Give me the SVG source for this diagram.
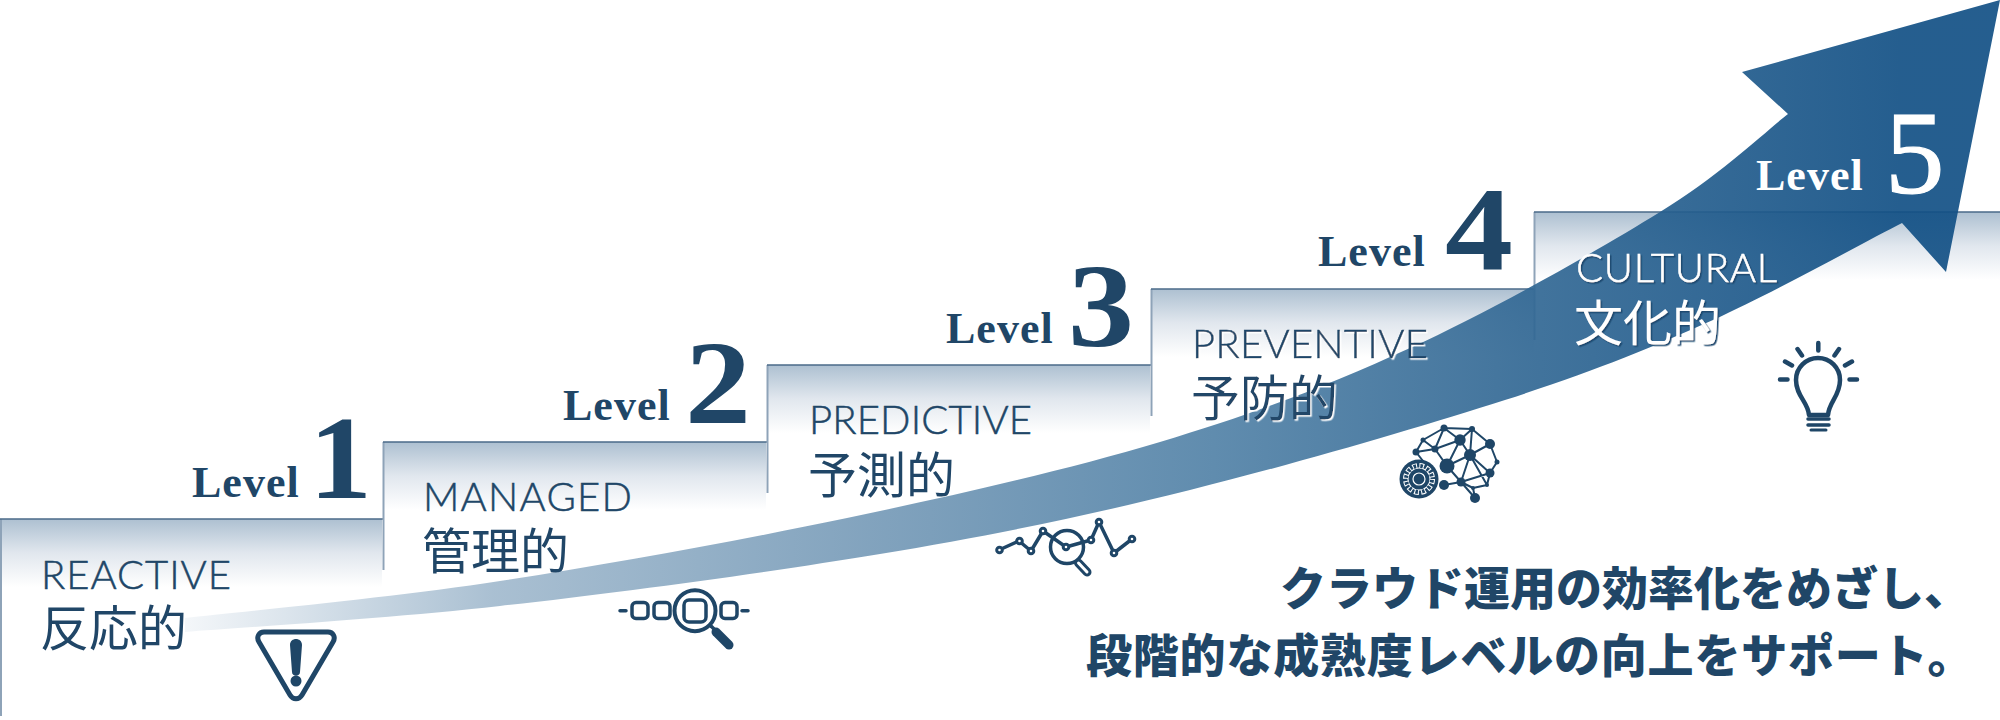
<svg xmlns="http://www.w3.org/2000/svg" width="2000" height="720" viewBox="0 0 2000 720">
<style>
text{font-family:"Liberation Serif",serif}
.lv{font-size:44px;font-weight:700;fill:#204667;letter-spacing:1px}
.dg{font-size:119px;font-weight:700;fill:#204667}
.en{font-family:Lato,"Noto Sans",sans-serif;font-weight:300;font-size:40px;fill:#204667;stroke:#204667;stroke-width:.5px}
.jp{font-family:"Noto Sans CJK JP",sans-serif;font-weight:400;font-size:49px;fill:#204667}
.msg{font-family:"Noto Sans CJK JP",sans-serif;font-weight:900;font-size:46px;fill:#204667}
.w{fill:#fff;stroke:#fff}
.lv.w,.jp.w{stroke:none}
.tl{stroke:#4a6a88;stroke-width:1.5;fill:none}
.ll{stroke:#8ea3b8;stroke-width:2;fill:none}
.ic{fill:none;stroke:#1f4667;stroke-linecap:round;stroke-linejoin:round}
.nd{fill:#1f4667}
.sh{filter:url(#sw)}
.sd{filter:url(#sd)}
</style>
<defs>
<linearGradient id="st" x1="0" y1="0" x2="0" y2="1"><stop offset="0" stop-color="#adc0d1"/><stop offset=".5" stop-color="#e1e7ee"/><stop offset="1" stop-color="#fff"/></linearGradient>
<linearGradient id="ar" gradientUnits="userSpaceOnUse" x1="185" y1="0" x2="1900" y2="0"><stop offset="0" stop-color="#f3f6f9"/><stop offset=".18" stop-color="#a2bace"/><stop offset=".4" stop-color="#779bb8"/><stop offset=".6" stop-color="#5282a7"/><stop offset=".78" stop-color="#326894"/><stop offset="1" stop-color="#125085"/></linearGradient>
<filter id="sw" x="-5%" y="-10%" width="110%" height="120%"><feDropShadow dx="1.5" dy="1.5" stdDeviation="0" flood-color="#fff"/></filter>
<filter id="sd" x="-5%" y="-10%" width="110%" height="120%"><feDropShadow dx="1.5" dy="1.5" stdDeviation="0" flood-color="#1f4a70"/></filter>
</defs>
<g id="step-1"><rect x="0" y="519" width="382" height="68" fill="url(#st)"/><path class="ll" d="M1 519V716"/><path class="tl" d="M0 519H383"/></g>
<g id="step-2"><rect x="383" y="442" width="383" height="68" fill="url(#st)"/><path class="ll" d="M383.500 442V570"/><path class="tl" d="M383 442H767"/></g>
<g id="step-3"><rect x="767" y="365" width="383" height="68" fill="url(#st)"/><path class="ll" d="M767.500 365V493"/><path class="tl" d="M767 365H1151"/></g>
<g id="step-4"><rect x="1151" y="289" width="383" height="68" fill="url(#st)"/><path class="ll" d="M1151.500 289V416"/><path class="tl" d="M1151 289H1535"/></g>
<g id="step-5"><rect x="1535" y="212" width="465" height="68" fill="url(#st)"/><path class="ll" d="M1534.500 212V340"/><path class="tl" d="M1534 212H2000"/></g>
<g id="connectors">
<path opacity=".92" fill="url(#ar)" d="M185 618C237 612 390 598 500 581C610 564 737 541 847 518C957 495 1066 470 1160 442C1254 414 1327 386 1410 348C1493 310 1597 251 1660 212C1723 173 1767 130 1788 114L1742 72L2000 0L1946 272L1902 223C1870 239 1779 290 1713 320C1647 349.500 1592 372 1505 400C1418 428 1294 464 1190 490C1086 516 995 535 880 554C765 573 616 593 500 606C384 619 237.500 627.700 185 632Z"/>
</g>
<g id="level-1">
<text class="lv" x="192" y="497">Level</text><text class="dg" x="309" y="498" textLength="63" lengthAdjust="spacingAndGlyphs">1</text>
<text class="en" x="41" y="589" textLength="190">REACTIVE</text>
<text class="jp" x="40" y="646">反応的</text>
<path class="ic" stroke-width="5" d="M264 632H328C333 632 336 637 333 642L302 695C299 700 293 700 290 695L259 642C256 637 259 632 264 632Z"/>
<path class="nd" d="M290 645C290 637 302 637 302 645L300 672C300 677 292 677 292 672Z"/><circle class="nd" cx="296" cy="681" r="5.500"/>
</g>
<g id="level-2">
<text class="lv" x="563" y="420">Level</text><text class="dg" x="685" y="423" textLength="66" lengthAdjust="spacingAndGlyphs">2</text>
<text class="en" x="423" y="511" textLength="209">MANAGED</text>
<text class="jp" x="422" y="569">管理的</text>
<g class="ic" stroke-width="3.500"><path d="M620 610.700H626M742 610.700H748"/><rect x="632" y="602.500" width="16" height="16" rx="4"/><rect x="654" y="602.500" width="16" height="16" rx="4"/><rect x="721" y="602.500" width="16" height="16" rx="4"/><rect x="684" y="600" width="22" height="22" rx="5"/><circle cx="695" cy="610.700" r="20.500" stroke-width="4"/><path d="M711 626L714 629"/><path d="M716 632L729 645" stroke-width="9"/></g>
</g>
<g id="level-3">
<text class="lv" x="946" y="343">Level</text><text class="dg" x="1068" y="346" textLength="66" lengthAdjust="spacingAndGlyphs">3</text>
<text class="en" x="809" y="434" textLength="223">PREDICTIVE</text>
<text class="jp" x="808" y="493">予測的</text>
<g class="ic" stroke-width="3.500"><circle cx="1067" cy="547" r="16.500"/><path d="M1078.500 563L1087 572" stroke-width="9"/><path d="M1078.500 563L1087 572" stroke="#fff" stroke-width="3"/><path d="M999 550L1019 541L1031 551L1043 531L1066 547L1091 540L1099 522L1114 553L1132 539"/><g fill="#fff" stroke-width="3"><circle cx="999.500" cy="550" r="2.800"/><circle cx="1019.500" cy="541" r="2.800"/><circle cx="1031" cy="551" r="2.800"/><circle cx="1043" cy="531" r="2.800"/><circle cx="1066" cy="547" r="2.800"/><circle cx="1091" cy="540" r="2.800"/><circle cx="1099" cy="522" r="2.800"/><circle cx="1114" cy="553" r="2.800"/><circle cx="1132" cy="539" r="2.800"/></g></g>
</g>
<g id="level-4">
<text class="lv" x="1318" y="266">Level</text><text class="dg" x="1445" y="269" textLength="68" lengthAdjust="spacingAndGlyphs">4</text>
<text class="en sh" x="1192" y="358" textLength="236">PREVENTIVE</text>
<text class="jp sh" x="1191" y="416">予防的</text>
<g class="ic" stroke-width="2"><path d="M1416 452L1423 440L1444 428L1472 429L1490 444L1497 462L1490 473L1487 485L1473 488L1475 498M1416 452L1435 449L1444 428L1460 440L1472 429L1470 455L1490 444M1423 440L1435 449L1447 466L1460 440L1470 455L1447 466M1435 449L1460 440M1470 455L1461 482L1447 466M1470 455L1490 473M1470 455L1487 485M1461 482L1490 473M1461 482L1475 498M1461 482L1444 485M1461 482L1473 488M1416 452L1430 470"/></g>
<g class="nd"><circle cx="1444" cy="428" r="3.500"/><circle cx="1472" cy="429" r="3"/><circle cx="1460" cy="440" r="5.700"/><circle cx="1490" cy="444" r="5"/><circle cx="1470" cy="455" r="6"/><circle cx="1423" cy="440" r="2.500"/><circle cx="1416" cy="452" r="3.500"/><circle cx="1435" cy="449" r="3.500"/><circle cx="1447" cy="466" r="7.500"/><circle cx="1497" cy="462" r="2.500"/><circle cx="1490" cy="473" r="4.500"/><circle cx="1461" cy="482" r="4.500"/><circle cx="1444" cy="485" r="5"/><circle cx="1487" cy="485" r="2"/><circle cx="1473" cy="488" r="2"/><circle cx="1475" cy="498" r="5"/><circle cx="1419" cy="479" r="19.500"/></g>
<circle cx="1419" cy="479" r="13" fill="none" stroke="#fff" stroke-width="6" stroke-dasharray="4.500 2.307"/><circle cx="1419" cy="479" r="11.500" fill="#fff"/><circle cx="1419" cy="479" r="10.500" fill="#1f4667"/><circle cx="1419" cy="479" r="13" fill="none" stroke="#1f4667" stroke-width="4" stroke-dasharray="2.500 4.307" stroke-dashoffset="-1"/><circle cx="1419" cy="479" r="6" fill="none" stroke="#fff" stroke-width="1.200"/>
</g>
<g id="level-5">
<text class="lv w" x="1756" y="190">Level</text><text class="dg w" x="1885" y="193" style="font-weight:400;stroke-width:1.200px">5</text>
<text class="en w sd" x="1576" y="282" textLength="201">CULTURAL</text>
<text class="jp w sd" x="1574" y="341">文化的</text>
<g class="ic" stroke-width="4.500"><path d="M1818.300 343V350.500M1797.500 349L1802 355.500M1785 361.500L1792 365.500M1780 379.500H1787.500M1839 349L1834.500 355.500M1852 361.500L1845 365.500M1857 379.500H1849.500"/><path d="M1809 415C1808 402 1796 396 1796 380A22 22 0 0 1 1840 380C1840 396 1829 402 1828 415Z"/><path d="M1808 419H1829M1808 425H1829" stroke-width="3.500"/><path d="M1811 430H1826" stroke-width="3"/></g>
</g>
<g id="message">
<text class="msg" x="1280" y="605">クラウド運用の効率化をめざし、</text>
<text class="msg" x="1086" y="672" letter-spacing=".8">段階的な成熟度レベルの向上をサポート。</text>
</g>
</svg>
